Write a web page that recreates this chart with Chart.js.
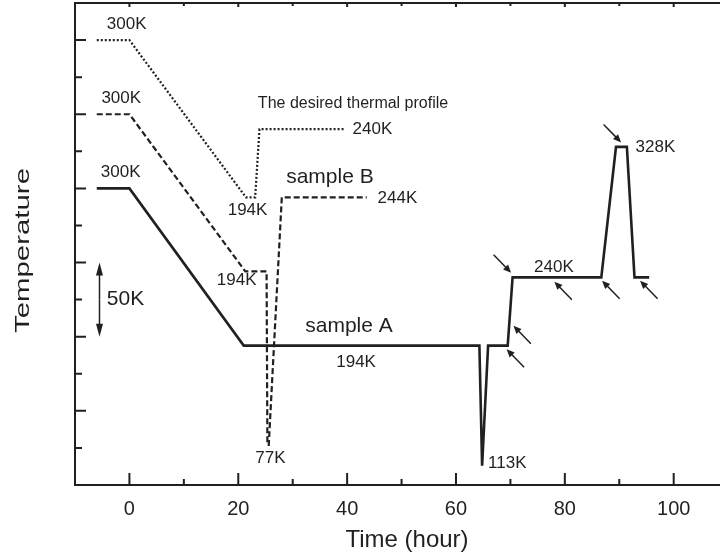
<!DOCTYPE html>
<html>
<head>
<meta charset="utf-8">
<script src="https://cdn.jsdelivr.net/npm/chart.js@4.4.1/dist/chart.umd.min.js"></script>
<style>
  html, body { margin: 0; padding: 0; background: #fff; overflow: hidden; }
  #wrap { position: relative; width: 745px; height: 558px; }
</style>
</head>
<body>
<div id="wrap"><canvas id="c"></canvas></div>
<script>
const FONT = "'Liberation Sans', Arial, Helvetica, sans-serif";
const INK = '#231f20';

// axis ticks (temperature axis is unlabelled, one major tick = 50K)
const xTickLabels = [0, 20, 40, 60, 80, 100];
const xMinorTicks = [10, 30, 50, 70, 90, 110];
const yMajorTicks = [150, 200, 250, 300, 350, 400];
const yMinorTicks = [125, 175, 225, 275, 325, 375];

// sample A (solid) - time in hours, temperature in K
const timeA = [-6, 0, 21, 64.3, 64.8, 65.9, 69.5, 70.4, 86.7, 89.4, 91.4, 92.8, 95.5];
const tempA = [300, 300, 194, 194, 113, 194, 194, 240, 240, 328, 328, 240, 240];

// sample B (dashed)
const timeB = [-6, 0, 21.3, 25.2, 25.35, 25.6, 28, 43.6];
const tempB = [300, 300, 194, 194, 77, 77, 244, 244];

// desired thermal profile (dotted)
const timeP = [-6, 0, 21.4, 23.1, 23.9, 39.5];
const tempP = [300, 300, 194, 194, 240, 240];

// curves are stacked: each one shifted up on the axis
const shiftA = 0, shiftB = 50, shiftP = 100;

// text notes: [text, time, axis value (baseline), align, px size]
const notes = [
  ['300K', -0.5, 407.8, 'center', 17],
  ['300K', -1.5, 357.3, 'center', 17],
  ['300K', -1.6, 307.8, 'center', 17],
  ['The desired thermal profile', 23.6, 353.9, 'left', 16],
  ['240K', 41.0, 336.6, 'left', 17],
  ['194K', 21.7, 282.0, 'center', 17],
  ['sample B', 28.8, 303.4, 'left', 21],
  ['244K', 45.6, 290.1, 'left', 17],
  ['194K', 19.7, 234.8, 'center', 17],
  ['sample A', 32.3, 203.4, 'left', 21],
  ['194K', 41.65, 179.8, 'center', 17],
  ['77K', 25.9, 114.9, 'center', 17],
  ['113K', 65.9, 111.5, 'left', 17],
  ['240K', 78.0, 243.8, 'center', 17],
  ['328K', 93.0, 324.3, 'left', 17],
  ['50K', -4.15, 221.4, 'left', 21],
];

// small arrows: [time, axis value of the tip, direction it points]
const pointers = [
  [70.13, 243.1, 'se'],
  [70.55, 207.4, 'nw'],
  [69.3, 191.5, 'nw'],
  [78.08, 237.1, 'nw'],
  [86.85, 237.7, 'nw'],
  [93.83, 237.7, 'nw'],
  [90.34, 331.0, 'se'],
];

const series = (t, temp, shift) => t.map((v, i) => ({ x: v, y: temp[i] + shift }));

function arrowHead(ctx, x0, y0, x1, y1, head, half) {
  const dx = x1 - x0, dy = y1 - y0, L = Math.hypot(dx, dy), ux = dx / L, uy = dy / L;
  ctx.beginPath();
  ctx.moveTo(x0, y0);
  ctx.lineTo(x1 - ux * head * 0.7, y1 - uy * head * 0.7);
  ctx.stroke();
  ctx.beginPath();
  ctx.moveTo(x1, y1);
  ctx.lineTo(x1 - ux * head - uy * half, y1 - uy * head + ux * half);
  ctx.lineTo(x1 - ux * head + uy * half, y1 - uy * head - ux * half);
  ctx.closePath();
  ctx.fill();
}

const decor = {
  id: 'decor',
  afterDatasetsDraw(chart) {
    const { ctx, chartArea: a, scales: { x, y } } = chart;
    ctx.save();
    ctx.strokeStyle = INK; ctx.fillStyle = INK;

    // frame
    ctx.lineWidth = 2;
    ctx.beginPath();
    ctx.moveTo(a.right, a.top); ctx.lineTo(a.left, a.top);
    ctx.lineTo(a.left, a.bottom); ctx.lineTo(a.right, a.bottom);
    ctx.stroke();

    // inward tick marks
    ctx.beginPath();
    const xt = (vals, len, topLen) => vals.forEach((v) => {
      const p = x.getPixelForValue(v);
      ctx.moveTo(p, a.bottom); ctx.lineTo(p, a.bottom - len);
      ctx.moveTo(p, a.top); ctx.lineTo(p, a.top + topLen);
    });
    const yt = (vals, len) => vals.forEach((v) => {
      const p = y.getPixelForValue(v);
      ctx.moveTo(a.left, p); ctx.lineTo(a.left + len, p);
    });
    xt(xTickLabels, 12, 4); xt(xMinorTicks, 6, 3);
    yt(yMajorTicks, 11); yt(yMinorTicks, 7);
    ctx.stroke();

    // text notes
    ctx.textBaseline = 'alphabetic';
    notes.forEach(([txt, t, v, align, size]) => {
      ctx.font = `${size}px ${FONT}`;
      ctx.textAlign = align;
      ctx.fillText(txt, x.getPixelForValue(t), y.getPixelForValue(v));
    });

    // pointer arrows
    ctx.lineWidth = 1.5;
    pointers.forEach(([t, v, dir]) => {
      const px = x.getPixelForValue(t), py = y.getPixelForValue(v);
      const s = dir === 'se' ? -1 : 1;
      arrowHead(ctx, px + s * 17.5, py + s * 18, px, py, 8, 3.5);
    });

    // 50K scale bar
    const bx = x.getPixelForValue(-5.5), b0 = y.getPixelForValue(200), b1 = y.getPixelForValue(250);
    const mid = (b0 + b1) / 2;
    arrowHead(ctx, bx, mid, bx, b1, 13, 3.5);
    arrowHead(ctx, bx, mid, bx, b0, 13, 3.5);

    // vertical axis title (stretched like the original)
    ctx.translate(29.3, 250.5);
    ctx.rotate(-Math.PI / 2);
    ctx.font = `20px ${FONT}`;
    const w = ctx.measureText('Temperature').width;
    ctx.scale(165 / w, 1);
    ctx.textAlign = 'center';
    ctx.fillText('Temperature', 0, 0);
    ctx.restore();
  },
};

const line = (data, width, dash) => ({
  data, borderColor: INK, borderWidth: width, borderDash: dash,
  pointRadius: 0, tension: 0, borderJoinStyle: 'miter', borderCapStyle: 'butt', fill: false,
});

new Chart(document.getElementById('c'), {
  type: 'line',
  data: {
    datasets: [
      line(series(timeA, tempA, shiftA), 2.6, []),
      line(series(timeB, tempB, shiftB), 2.2, [6, 3]),
      line(series(timeP, tempP, shiftP), 2.2, [2, 2]),
    ],
  },
  options: {
    responsive: true, maintainAspectRatio: false, animation: false,
    layout: { padding: { left: 75, top: 3, right: 6, bottom: 0 } },
    plugins: { legend: { display: false }, tooltip: { enabled: false } },
    scales: {
      x: {
        type: 'linear', min: -10, max: 112,
        afterBuildTicks: (s) => { s.ticks = xTickLabels.map((v) => ({ value: v })); },
        grid: { display: false, drawTicks: false, tickLength: 0 },
        border: { display: false },
        ticks: { font: { size: 20, family: FONT }, color: INK, padding: 12, maxRotation: 0, autoSkip: false },
        title: { display: true, text: 'Time (hour)', color: INK, font: { size: 24, family: FONT }, padding: { top: -7.4, bottom: 3.6 } },
      },
      y: { type: 'linear', display: false, min: 100, max: 425 },
    },
  },
  plugins: [decor],
});
</script>
</body>
</html>
